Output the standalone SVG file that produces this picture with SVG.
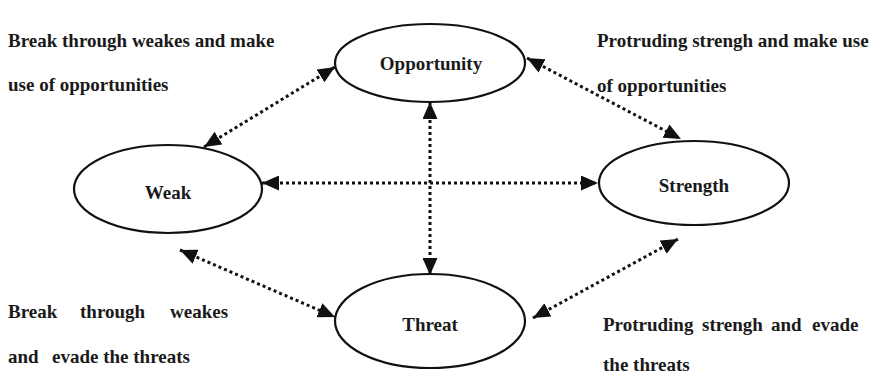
<svg xmlns="http://www.w3.org/2000/svg" width="876" height="378" viewBox="0 0 876 378">
  <style>
    .node ellipse { fill: #ffffff; stroke: #111111; stroke-width: 2.2; }
    .label { font-family: "Liberation Serif", "Times New Roman", serif; font-weight: bold; font-size: 19px; fill: #1a1a1a; }
    .center { text-anchor: middle; }
    .link { stroke: #111111; stroke-width: 3; stroke-dasharray: 3 3; fill: none; marker-start: url(#head); marker-end: url(#head); }
  </style>
  <defs>
    <marker id="head" viewBox="0 0 17 15" refX="17" refY="7.5" markerWidth="17" markerHeight="15" markerUnits="userSpaceOnUse" orient="auto-start-reverse">
      <path d="M0,0 L17,7.5 L0,15 z" fill="#111111"/>
    </marker>
  </defs>

  <rect width="876" height="378" fill="#ffffff"/>

  <!-- nodes -->
  <g id="opportunity" class="node">
    <ellipse cx="430" cy="63" rx="95" ry="39"/>
    <text class="label center" x="431" y="70">Opportunity</text>
  </g>
  <g id="weak" class="node">
    <ellipse cx="168" cy="189" rx="94" ry="44"/>
    <text class="label center" x="168" y="199">Weak</text>
  </g>
  <g id="strength" class="node">
    <ellipse cx="694" cy="183" rx="95" ry="42"/>
    <text class="label center" x="694" y="192">Strength</text>
  </g>
  <g id="threat" class="node">
    <ellipse cx="430" cy="321" rx="95" ry="47"/>
    <text class="label center" x="430" y="331">Threat</text>
  </g>

  <!-- connectors (double-headed, dotted) -->
  <g id="connectors">
    <line class="link" x1="204" y1="147" x2="335" y2="67"/>
    <line class="link" x1="527" y1="58" x2="681" y2="139"/>
    <line class="link" x1="430" y1="102" x2="430" y2="275"/>
    <line class="link" x1="262" y1="183" x2="598" y2="183"/>
    <line class="link" x1="180" y1="250" x2="335" y2="317"/>
    <line class="link" x1="533" y1="318" x2="678" y2="239"/>
  </g>

  <!-- strategy notes -->
  <g id="notes">
    <text class="label" x="8" y="47">Break through weakes  and make</text>
    <text class="label" x="8" y="91">use of opportunities</text>

    <text class="label" x="597" y="47">Protruding strengh and make use</text>
    <text class="label" x="597" y="92">of opportunities</text>

    <text class="label" y="318"><tspan x="8">Break</tspan><tspan x="80">through</tspan><tspan x="170">weakes</tspan></text>
    <text class="label" y="363"><tspan x="8">and</tspan><tspan x="52">evade the threats</tspan></text>

    <text class="label" y="331"><tspan x="603">Protruding</tspan><tspan x="702">strengh</tspan><tspan x="771">and</tspan><tspan x="812">evade</tspan></text>
    <text class="label" x="603" y="371">the threats</text>
  </g>
</svg>
